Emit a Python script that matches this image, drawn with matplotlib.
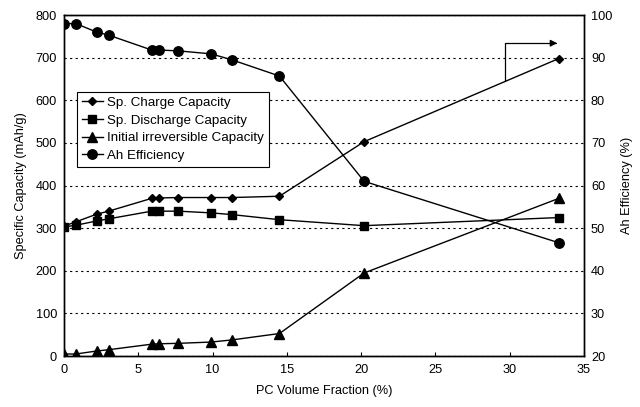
import matplotlib
matplotlib.use("Agg")
import matplotlib.pyplot as plt
from matplotlib.lines import Line2D

plt.rcParams['font.family'] = ['Liberation Sans', 'DejaVu Sans']

pc_fraction = [0, 0.8, 2.2, 3.0, 5.9, 6.4, 7.7, 9.9, 11.3, 14.5, 20.2, 33.3]
charge_capacity = [305, 315, 333, 340, 370, 371, 372, 372, 372, 375, 503, 698]
discharge_capacity = [303, 307, 317, 322, 340, 340, 340, 336, 332, 320, 306, 325]
irreversible_capacity = [5, 5, 12, 15, 28, 29, 30, 33, 38, 53, 195, 370]
ah_efficiency = [98, 98, 96, 95.3, 91.8, 91.8, 91.6, 90.9, 89.5, 85.7, 61.0, 46.6]

legend_labels = ["Sp. Charge Capacity", "Sp. Discharge Capacity",
                 "Initial irreversible Capacity", "Ah Efficiency"]

fig = plt.figure(figsize=(6.4, 4.07), dpi=100)
ax = fig.add_axes([0.1, 0.125, 0.8125, 0.838])
ax2 = ax.twinx()

lw = 1.0
ax.plot(pc_fraction, charge_capacity, color='black', lw=lw, marker='D', ms=4.5)
ax.plot(pc_fraction, discharge_capacity, color='black', lw=lw, marker='s', ms=6)
ax.plot(pc_fraction, irreversible_capacity, color='black', lw=lw, marker='^', ms=6.5)
ax2.plot(pc_fraction, ah_efficiency, color='black', lw=lw, marker='o', ms=6.8)

ax.set_xlim(0, 35)
ax.set_ylim(0, 800)
ax2.set_ylim(20, 100)
ax.set_xticks(range(0, 36, 5))
ax.set_yticks(range(0, 801, 100))
ax2.set_yticks(range(20, 101, 10))

ax.yaxis.grid(True, linestyle=(0, (2, 3)), color='black', lw=0.8)
ax.set_axisbelow(True)

fs = 9.2
ax.tick_params(axis='x', direction='in', length=3, labelsize=fs, pad=6)
ax.tick_params(axis='y', length=0, labelsize=fs, pad=5)
ax2.tick_params(axis='y', length=0, labelsize=fs, pad=5)

for a in (ax, ax2):
    for s in a.spines.values():
        s.set_linewidth(1.0)
        s.set_color('black')

ax.set_xlabel("PC Volume Fraction (%)", fontsize=fs, labelpad=6)
ax.set_ylabel("Specific Capacity (mAh/g)", fontsize=fs, labelpad=6)
ax2.set_ylabel("Ah Efficiency (%)", fontsize=fs, labelpad=6)

# arrow indicating the right axis for the Ah efficiency
arrow_start = (29.7, 645)
arrow_end = (33.2, 734)
ax.annotate('', xy=arrow_end, xytext=arrow_start,
            arrowprops=dict(arrowstyle='-|>', color='black', lw=0.9,
                            shrinkA=0, shrinkB=0, mutation_scale=10,
                            connectionstyle='angle,angleA=90,angleB=0,rad=0'))

handles = [Line2D([], [], color='black', lw=lw, marker='D', ms=4.5),
           Line2D([], [], color='black', lw=lw, marker='s', ms=6),
           Line2D([], [], color='black', lw=lw, marker='^', ms=6.5),
           Line2D([], [], color='black', lw=lw, marker='o', ms=6.8)]
leg = ax2.legend(handles, legend_labels, loc='upper left',
                 bbox_to_anchor=(0.025, 0.774), fontsize=9.6, frameon=True,
                 fancybox=False, edgecolor='black', framealpha=1,
                 handlelength=1.6, handletextpad=0.3, borderpad=0.35,
                 labelspacing=0.4, borderaxespad=0)
leg.get_frame().set_linewidth(0.8)

fig.savefig("out.png", dpi=100)
